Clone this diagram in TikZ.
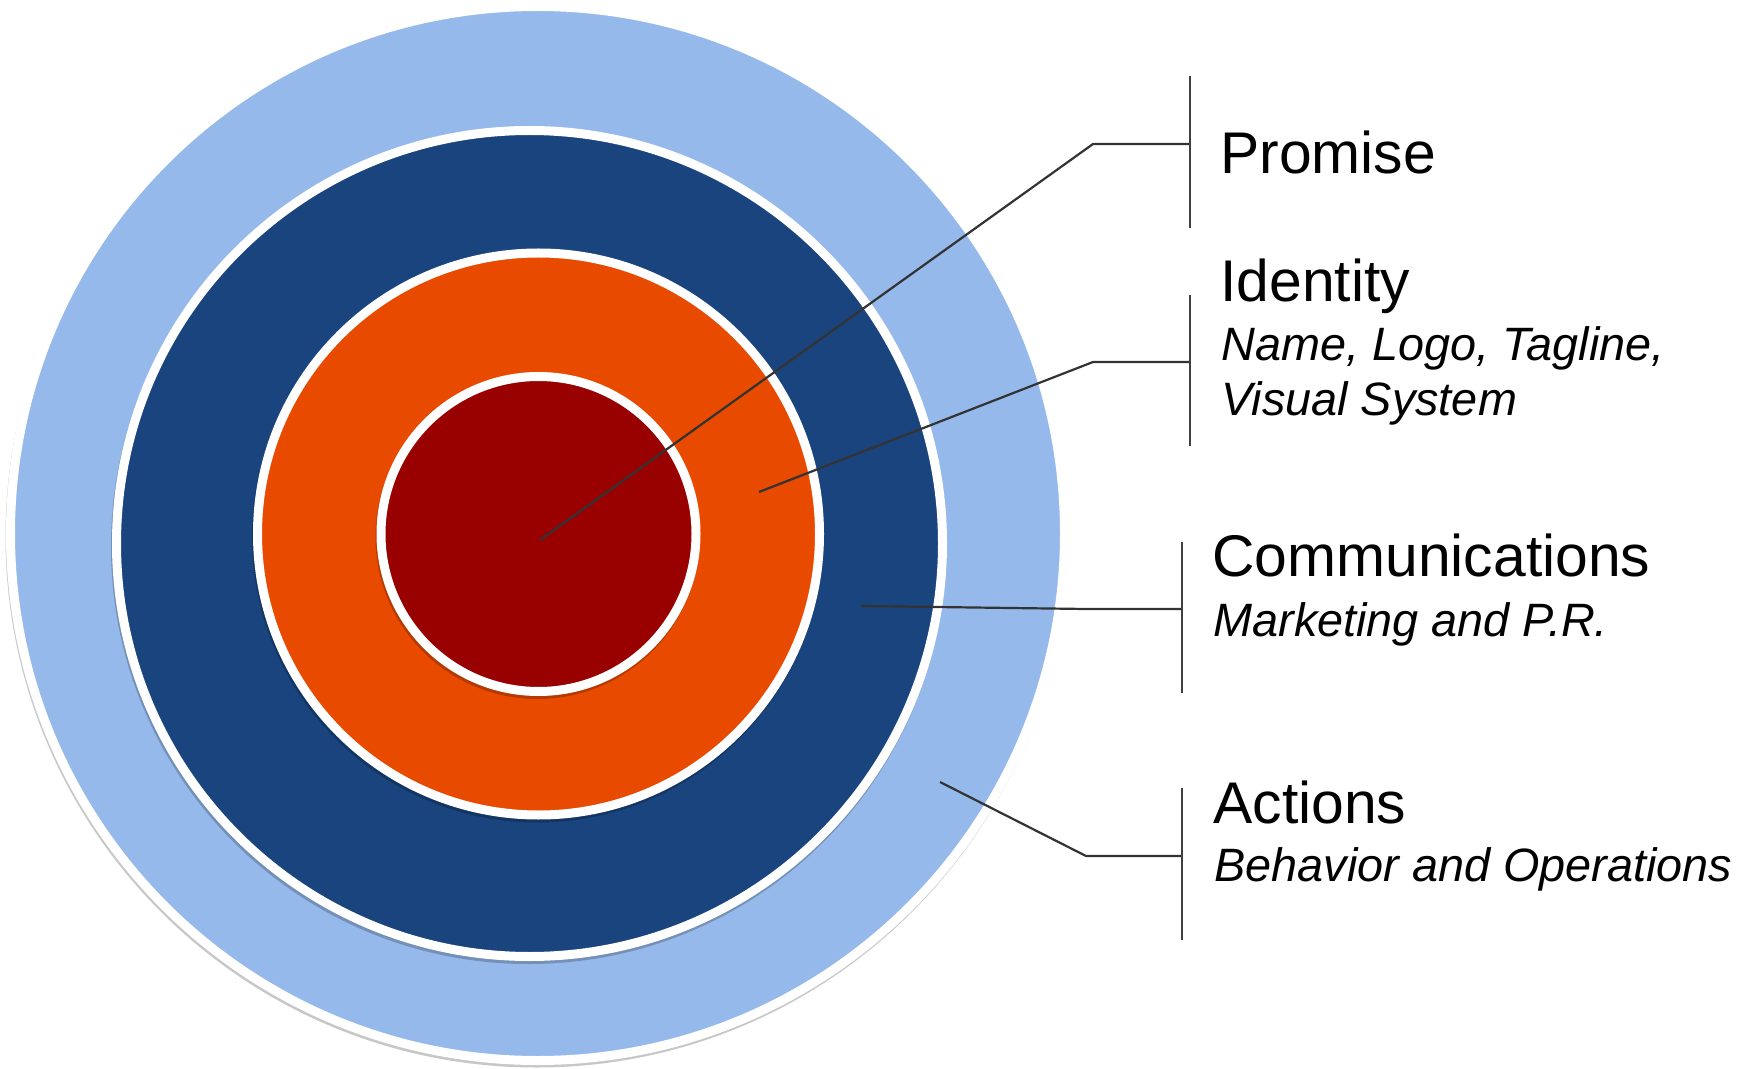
\documentclass[tikz,border=0pt]{standalone}
\usepackage{fontspec}
\setmainfont{Liberation Sans}
\definecolor{lblue}{RGB}{149,185,234}
\definecolor{dblue}{RGB}{26,68,126}
\definecolor{orng}{RGB}{232,74,0}
\definecolor{dred}{RGB}{153,0,0}
\definecolor{lineg}{RGB}{51,51,51}
\definecolor{barg}{RGB}{64,64,64}
\begin{document}
\begin{tikzpicture}[x=0.5pt,y=-0.5pt,
  ring/.style={draw=white,line width=4.5pt},
  shadowc/.style={fill=black,opacity=0.22},
  conn/.style={draw=lineg,line width=1.1pt},
  bar/.style={draw=barg,line width=1.1pt},
  ttl/.style={anchor=base west,inner sep=0pt,font=\fontsize{29.4}{34}\selectfont},
  sub/.style={anchor=base west,inner sep=0pt,font=\itshape\fontsize{23.4}{28}\selectfont}]
\useasboundingbox (0,0) rectangle (1746,1069);
% circles
\coordinate (cLB) at (537.5,533.5);
\coordinate (cLBs) at (536.5,536.5);
\coordinate (cDB) at (529.5,543.5);
\coordinate (cDBs) at (528.5,546.5);
\coordinate (cOR) at (538.5,534);
\coordinate (cORs) at (537.5,537);
\coordinate (cRD) at (538.5,534);
\coordinate (cRDs) at (537.5,537);
\fill[shadowc] (cLBs) circle [radius=531];
\filldraw[ring,fill=lblue] (cLB) circle [radius=527];
\fill[shadowc] (cDBs) circle [radius=417.5];
\filldraw[ring,fill=dblue] (cDB) circle [radius=413];
\fill[shadowc] (cORs) circle [radius=285.5];
\filldraw[ring,fill=orng] (cOR) circle [radius=281];
\fill[shadowc] (cRDs) circle [radius=162];
\filldraw[ring,fill=dred] (cRD) circle [radius=157.5];
% connectors
\coordinate (pS) at (540,540);
\coordinate (pK) at (1093,144);
\coordinate (pE) at (1190,144);
\coordinate (pT) at (1190,76);
\coordinate (pB) at (1190,228);
\draw[conn] (pS) -- (pK) -- (pE);
\draw[bar] (pT) -- (pB);
\coordinate (iS) at (759,492);
\coordinate (iK) at (1093,362);
\coordinate (iE) at (1190,362);
\coordinate (iT) at (1190,295);
\coordinate (iB) at (1190,446);
\draw[conn] (iS) -- (iK) -- (iE);
\draw[bar] (iT) -- (iB);
\coordinate (cS) at (861,606);
\coordinate (cK) at (1086,609);
\coordinate (cE) at (1182,609);
\coordinate (cT) at (1182,542);
\coordinate (cB) at (1182,693);
\draw[conn] (cS) -- (cK) -- (cE);
\draw[bar] (cT) -- (cB);
\coordinate (aS) at (940,782);
\coordinate (aK) at (1086,856);
\coordinate (aE) at (1182,856);
\coordinate (aT) at (1182,788);
\coordinate (aB) at (1182,940);
\draw[conn] (aS) -- (aK) -- (aE);
\draw[bar] (aT) -- (aB);
% labels
\node[ttl] (tP) at (1220,174) {Promise};
\node[ttl] (tI) at (1220,302) {Identity};
\node[sub] (sI1) at (1221,361) {Name, Logo, Tagline,};
\node[sub] (sI2) at (1221,416) {Visual System};
\node[ttl] (tC) at (1212,576) {Communications};
\node[sub] (sC) at (1213,636) {Marketing and P.R.};
\node[ttl] (tA) at (1213,823) {Actions};
\node[sub] (sA) at (1214,881) {Behavior and Operations};
\end{tikzpicture}
\end{document}
